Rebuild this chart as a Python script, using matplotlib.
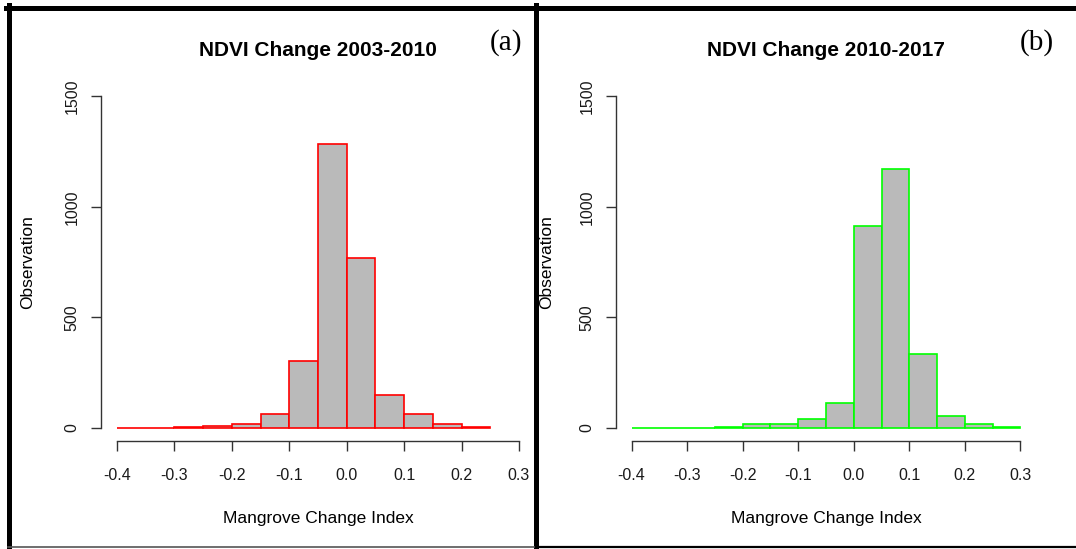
import numpy as np
import matplotlib.pyplot as plt
from matplotlib.lines import Line2D

plt.rcParams['font.family'] = ['Liberation Sans', 'DejaVu Sans']

# histogram data (bin width 0.05, starting at -0.4)
bin_start = -0.4
bin_width = 0.05
counts_a = [0, 0, 2, 8, 15, 62, 302, 1283, 768, 150, 62, 16, 4]
counts_b = [0, 0, 0, 5, 16, 15, 40, 111, 913, 1169, 334, 54, 19, 3]
titles = ['NDVI Change 2003-2010', 'NDVI Change 2010-2017']
tags = ['(a)', '(b)']
edge_colors = ['#ff0000', '#00ff00']
xticks = [-0.4, -0.3, -0.2, -0.1, 0.0, 0.1, 0.2, 0.3]
yticks = [0, 500, 1000, 1500]

W, H = 1076, 549
fig = plt.figure(figsize=(W / 100, H / 100), dpi=100)


def px(x0, y0, x1, y1):
    # pixel box (top-left origin) -> figure fraction rect
    return [x0 / W, 1 - y1 / H, (x1 - x0) / W, (y1 - y0) / H]


# plot regions in pixels
boxes = [(101, 83, 535, 441), (616, 83, 1036, 441)]
panel_cx = [318, 826]
ylab_x = [28, 547]
tag_pos = [(506, 43), (1037, 43)]

for i, counts in enumerate([counts_a, counts_b]):
    ax = fig.add_axes(px(*boxes[i]))
    edges = bin_start + bin_width * np.arange(len(counts))
    ax.bar(edges, counts, width=bin_width, align='edge', color='#bababa',
           edgecolor=edge_colors[i], linewidth=1.2)
    ax.set_xlim(-0.428, 0.328)
    ax.set_ylim(-60, 1560)
    for s in ['top', 'right']:
        ax.spines[s].set_visible(False)
    ax.spines['left'].set_bounds(0, 1500)
    ax.spines['bottom'].set_bounds(-0.4, 0.3)
    for s in ['left', 'bottom']:
        ax.spines[s].set_color('#333333')
        ax.spines[s].set_linewidth(1.0)
    ax.set_xticks(xticks)
    ax.set_xticklabels(['%.1f' % v for v in xticks])
    ax.set_yticks(yticks)
    ax.set_yticklabels([str(v) for v in yticks], rotation=90, va='center')
    ax.tick_params(axis='both', length=7.5, width=1.0, color='#333333',
                   labelsize=11.5, labelcolor='#1a1a1a')
    ax.tick_params(axis='x', pad=12)
    ax.tick_params(axis='y', pad=8)

    fig.text(panel_cx[i] / W, 1 - 50 / H, titles[i], ha='center', va='center',
             fontsize=15, fontweight='bold')
    fig.text(panel_cx[i] / W, 1 - 518 / H, 'Mangrove Change Index',
             ha='center', va='center', fontsize=12.5)
    fig.text(ylab_x[i] / W, 1 - 262 / H, 'Observation', ha='center',
             va='center', rotation=90, fontsize=12.5)
    fig.text(tag_pos[i][0] / W, 1 - tag_pos[i][1] / H, tags[i], ha='center',
             va='center', fontsize=21, family='Liberation Serif')

# panel borders
def hline(y, x0, x1, lw, c='black'):
    fig.add_artist(Line2D([x0 / W, x1 / W], [1 - y / H, 1 - y / H],
                          transform=fig.transFigure, color=c, lw=lw))


def vline(x, y0, y1, lw, c='black'):
    fig.add_artist(Line2D([x / W, x / W], [1 - y0 / H, 1 - y1 / H],
                          transform=fig.transFigure, color=c, lw=lw))


hline(7.5, 6, 1076, 3.6)
vline(8.5, 5, 547, 3.6)
vline(536, 5, 547, 3.6)
hline(546.5, 8, 536, 1.2, '#555555')
hline(546.5, 536, 1076, 1.6)

fig.savefig('out.png', dpi=100)
